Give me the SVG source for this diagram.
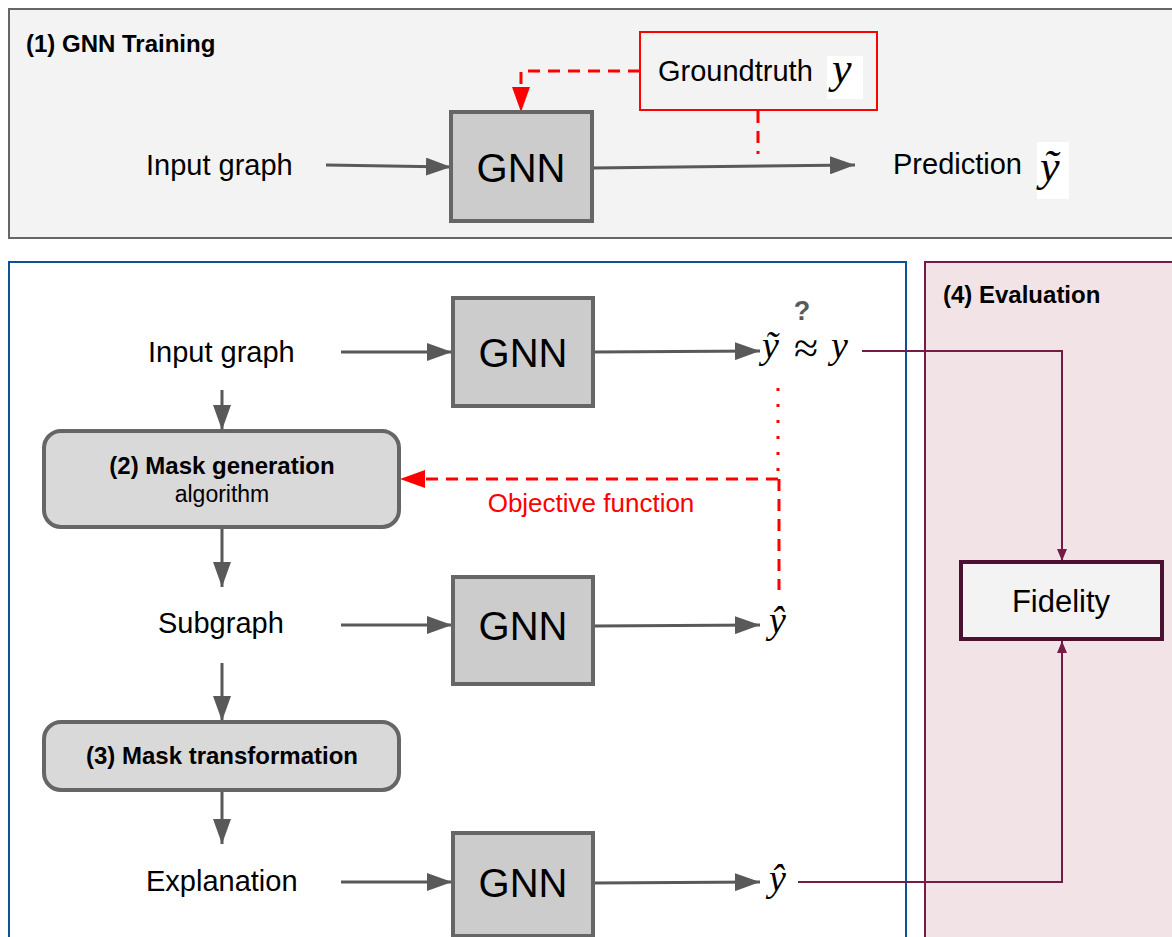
<svg xmlns="http://www.w3.org/2000/svg" width="1172" height="937" viewBox="0 0 1172 937">
<style>
.lbl{font-family:"Liberation Sans",Arial,sans-serif;font-size:29px;fill:#000}
.ttl{font-family:"Liberation Sans",Arial,sans-serif;font-size:24px;font-weight:bold;fill:#000}
.gnn{font-family:"Liberation Sans",Arial,sans-serif;font-size:40px;fill:#000;text-anchor:middle}
.math{font-family:"Liberation Serif","Times New Roman",serif;font-style:italic;fill:#000}
.gbox{fill:#cccccc;stroke:#666666;stroke-width:4}
.mbox{fill:#d9d9d9;stroke:#666666;stroke-width:4}
.arr{stroke:#595959;stroke-width:3;fill:none}
.red{stroke:#ff0000;stroke-width:3;fill:none;stroke-dasharray:12 8}
.dot{stroke:#ff0000;stroke-width:3;fill:none;stroke-dasharray:3 13}
.pur{stroke:#741b47;stroke-width:2;fill:none}
</style>
<defs>
<marker id="ag" markerUnits="userSpaceOnUse" markerWidth="25" markerHeight="18" refX="25" refY="9" orient="auto"><path d="M0,0 L25,9 L0,18 z" fill="#595959"/></marker>
<marker id="ar" markerUnits="userSpaceOnUse" markerWidth="25" markerHeight="18" refX="25" refY="9" orient="auto"><path d="M0,0 L25,9 L0,18 z" fill="#ff0000"/></marker>
<marker id="ap" markerUnits="userSpaceOnUse" markerWidth="12" markerHeight="10" refX="12" refY="5" orient="auto"><path d="M0,0 L12,5 L0,10 z" fill="#741b47"/></marker>
</defs>

<g id="panel-training">
<rect x="9" y="9" width="1175" height="229" fill="#f3f3f3" stroke="#666666" stroke-width="2"/>
<text class="ttl" x="26" y="52">(1) GNN Training</text>
</g>
<g id="panel-explain">
<rect x="9" y="262" width="897" height="690" fill="#ffffff" stroke="#0b5394" stroke-width="2"/>
</g>
<g id="panel-eval">
<rect x="925" y="262" width="260" height="690" fill="#f2e4e6" stroke="#741b47" stroke-width="2"/>
<text class="ttl" x="943" y="303">(4) Evaluation</text>
</g>

<g id="connectors">
<line class="arr" x1="326" y1="165" x2="451" y2="167" marker-end="url(#ag)"/>
<line class="arr" x1="592" y1="168" x2="855" y2="165" marker-end="url(#ag)"/>
<polyline class="red" points="640,71 521,71 521,112" marker-end="url(#ar)"/>
<line class="red" x1="758" y1="111" x2="758" y2="154"/>
<line class="arr" x1="341" y1="352" x2="452" y2="352" marker-end="url(#ag)"/>
<line class="arr" x1="594" y1="352" x2="760" y2="351" marker-end="url(#ag)"/>
<line class="arr" x1="222" y1="390" x2="222" y2="430" marker-end="url(#ag)"/>
<line class="arr" x1="222" y1="527" x2="222" y2="587" marker-end="url(#ag)"/>
<line class="arr" x1="341" y1="625" x2="452" y2="625" marker-end="url(#ag)"/>
<line class="arr" x1="594" y1="626" x2="760" y2="625" marker-end="url(#ag)"/>
<line class="arr" x1="222" y1="663" x2="222" y2="721" marker-end="url(#ag)"/>
<line class="arr" x1="222" y1="791" x2="222" y2="844" marker-end="url(#ag)"/>
<line class="arr" x1="341" y1="882" x2="452" y2="882" marker-end="url(#ag)"/>
<line class="arr" x1="594" y1="883" x2="760" y2="882" marker-end="url(#ag)"/>
<line class="dot" x1="778" y1="388" x2="778" y2="474"/>
<line class="red" x1="778" y1="479" x2="400" y2="479" marker-end="url(#ar)"/>
<line class="red" x1="779" y1="479" x2="779" y2="590"/>
<polyline class="pur" points="862,351 1062,351 1062,561" marker-end="url(#ap)"/>
<polyline class="pur" points="798,882 1062,882 1062,641" marker-end="url(#ap)"/>
</g>

<g id="groundtruth">
<rect x="640" y="32" width="237" height="78" fill="#f3f3f3" stroke="#ff0000" stroke-width="2"/>
<text class="lbl" x="658" y="81">Groundtruth</text>
<rect x="827" y="56" width="36" height="43" fill="#ffffff"/>
<text class="math" x="832" y="83" font-size="44">y</text>
</g>
<g id="input-top"><text class="lbl" x="146" y="175">Input graph</text></g>
<g id="gnn-top">
<rect class="gbox" x="451" y="112" width="141" height="109"/>
<text class="gnn" x="521" y="182">GNN</text>
</g>
<g id="prediction">
<text class="lbl" x="893" y="174">Prediction</text>
<rect x="1037" y="142" width="32" height="57" fill="#ffffff"/>
<text class="math" x="1040" y="181" font-size="44">ỹ</text>
</g>

<g id="input-graph"><text class="lbl" x="148" y="362">Input graph</text></g>
<g id="gnn-1">
<rect class="gbox" x="453" y="298" width="140" height="108"/>
<text class="gnn" x="523" y="367">GNN</text>
</g>
<g id="compare">
<text class="math" x="762" y="358" font-size="38">ỹ</text>
<text x="806" y="363" font-family="Liberation Serif,serif" font-size="44" text-anchor="middle">≈</text>
<text class="math" x="831" y="358" font-size="38">y</text>
<text x="802" y="320" font-family="Liberation Sans,Arial,sans-serif" font-size="27" font-weight="bold" fill="#595959" text-anchor="middle">?</text>
</g>
<g id="mask-generation">
<rect class="mbox" x="44" y="431" width="355" height="96" rx="17"/>
<text class="ttl" x="222" y="474" text-anchor="middle">(2) Mask generation</text>
<text x="222" y="502" font-family="Liberation Sans,Arial,sans-serif" font-size="23" text-anchor="middle">algorithm</text>
</g>
<g id="objective"><text x="591" y="512" font-family="Liberation Sans,Arial,sans-serif" font-size="26" fill="#ff0000" text-anchor="middle">Objective function</text></g>
<g id="subgraph"><text class="lbl" x="158" y="633">Subgraph</text></g>
<g id="gnn-2">
<rect class="gbox" x="453" y="577" width="140" height="107"/>
<text class="gnn" x="523" y="640">GNN</text>
</g>
<g id="yhat-1"><text class="math" x="769" y="633" font-size="38">ŷ</text></g>
<g id="mask-transformation">
<rect class="mbox" x="44" y="722" width="355" height="68" rx="17"/>
<text class="ttl" x="222" y="764" text-anchor="middle">(3) Mask transformation</text>
</g>
<g id="explanation"><text class="lbl" x="146" y="891">Explanation</text></g>
<g id="gnn-3">
<rect class="gbox" x="453" y="833" width="140" height="103"/>
<text class="gnn" x="523" y="897">GNN</text>
</g>
<g id="yhat-2"><text class="math" x="769" y="891" font-size="38">ŷ</text></g>
<g id="fidelity">
<rect x="961" y="562" width="201" height="77" fill="#f3f3f3" stroke="#4c1130" stroke-width="4"/>
<text x="1061" y="612" font-family="Liberation Sans,Arial,sans-serif" font-size="31" text-anchor="middle">Fidelity</text>
</g>
</svg>
